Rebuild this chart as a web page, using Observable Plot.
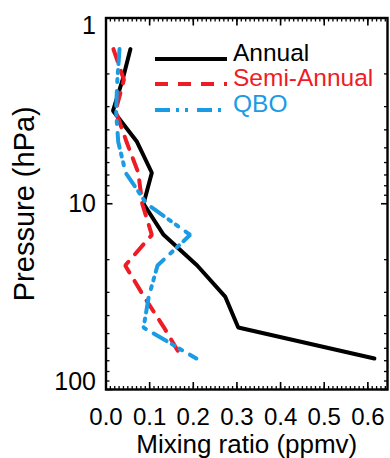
<!DOCTYPE html>
<html><head><meta charset="utf-8">
<script src="https://cdn.jsdelivr.net/npm/d3@7"></script>
<script src="https://cdn.jsdelivr.net/npm/@observablehq/plot@0.6"></script>
<style>
body{margin:0;background:#fff;}
#wrap{position:relative;width:390px;height:458px;}
#legend{position:absolute;left:0;top:0;pointer-events:none;}
#wrap g[aria-label="x-axis tick label"]{font-size:24px !important;}
#wrap g[aria-label="y-axis tick label"]{font-size:25px !important;}
#wrap g[aria-label="x-axis label"]{font-size:26px !important;}
#wrap g[aria-label="y-axis label"]{font-size:29px !important;}
</style></head><body><div id="wrap"></div>
<script>
// pressure levels (hPa)
const pressure   = [1.47, 2.15, 3.16, 4.64, 6.81, 10, 14.7, 21.5, 31.6, 46.4, 68.1];
// mixing ratio amplitudes (ppmv)
const annual     = [0.056, 0.038, 0.016, 0.071, 0.105, 0.086, 0.132, 0.209, 0.273, 0.303, 0.615];
const semiAnnual = [0.017, 0.041, 0.022, 0.047, 0.074, 0.083, 0.105, 0.044, 0.087, 0.133, 0.175];
const qbo        = [0.031, 0.026, 0.023, 0.028, 0.045, 0.093, 0.193, 0.118, 0.098, 0.086, 0.207];
const seriesNames = ["Annual", "Semi-Annual", "QBO"];
const xTicks = [0.0, 0.1, 0.2, 0.3, 0.4, 0.5, 0.6];
const yTicks = [1, 10, 100];
const xLabel = "Mixing ratio (ppmv)";
const yLabel = "Pressure (hPa)";

const colors = {"Annual": "#000000", "Semi-Annual": "#ee1c25", "QBO": "#1b9be4"};
const dashes = {"Annual": null, "Semi-Annual": "13,10", "QBO": "15,6,3,6,3,9"};
const values = {"Annual": annual, "Semi-Annual": semiAnnual, "QBO": qbo};

const xMinor = d3.range(0, 64.6, 1).map(d => d / 100);
const yMinor = [2,3,4,5,6,7,8,9,20,30,40,50,60,70,80,90];
const font = "'Liberation Sans', Arial, Helvetica, sans-serif";

const lineMarks = seriesNames.map(name => Plot.line(
  pressure.map((p, i) => ({p, v: values[name][i]})),
  {x: "v", y: "p", stroke: colors[name], strokeWidth: 4, strokeDasharray: dashes[name], strokeLinejoin: "miter", curve: "linear"}
));

const tickAxes = [];
for (const anchor of ["bottom", "top"]) {
  tickAxes.push(Plot.axisX({anchor, ticks: xMinor, tickSize: -3, text: null, label: null, strokeWidth: 1.3}));
  tickAxes.push(Plot.axisX({anchor, ticks: xTicks, tickSize: -7, text: null, label: null, strokeWidth: 1.6}));
}
for (const anchor of ["left", "right"]) {
  tickAxes.push(Plot.axisY({anchor, ticks: yMinor, tickSize: -4, text: null, label: null, strokeWidth: 1.3}));
  tickAxes.push(Plot.axisY({anchor, ticks: yTicks, tickSize: -7, text: null, label: null, strokeWidth: 1.6}));
}

const chart = Plot.plot({
  width: 390, height: 458,
  marginLeft: 105.5, marginRight: 3, marginTop: 17.5, marginBottom: 69,
  style: {fontFamily: font, fontSize: "24px", color: "black", background: "white", overflow: "visible"},
  x: {domain: [0, 0.645]},
  y: {type: "log", domain: [1, 100], reverse: true},
  marks: [
    ...lineMarks,
    ...tickAxes,
    Plot.axisX({anchor: "bottom", ticks: xTicks, tickSize: 0, tickPadding: 18, tickFormat: d => d.toFixed(1),
      label: xLabel, labelAnchor: "center", labelArrow: "none", labelOffset: 63}),
    Plot.axisY({anchor: "left", ticks: [1], tickSize: 0, tickPadding: 10, tickFormat: d => String(d), dy: 8, label: null}),
    Plot.axisY({anchor: "left", ticks: [10], tickSize: 0, tickPadding: 10, tickFormat: d => String(d), label: null}),
    Plot.axisY({anchor: "left", ticks: [100], tickSize: 0, tickPadding: 10, tickFormat: d => String(d), dy: -8,
      label: yLabel, labelAnchor: "center", labelArrow: "none", labelOffset: 93}),
    Plot.frame({stroke: "black", strokeWidth: 2.4})
  ]
});
document.getElementById("wrap").appendChild(chart);

// legend overlay
const leg = d3.select("#wrap").append("svg").attr("id", "legend").attr("width", 390).attr("height", 458);
const legY = [59, 84, 110];
seriesNames.forEach((name, i) => {
  leg.append("line").attr("x1", 155).attr("x2", 227).attr("y1", legY[i]).attr("y2", legY[i])
    .attr("stroke", colors[name]).attr("stroke-width", 4).attr("stroke-dasharray", dashes[name]);
  leg.append("text").attr("x", 233).attr("y", legY[i] + 1.5).attr("fill", colors[name])
    .attr("font-family", font).attr("font-size", 24.5).text(name);
});
</script></body></html>
